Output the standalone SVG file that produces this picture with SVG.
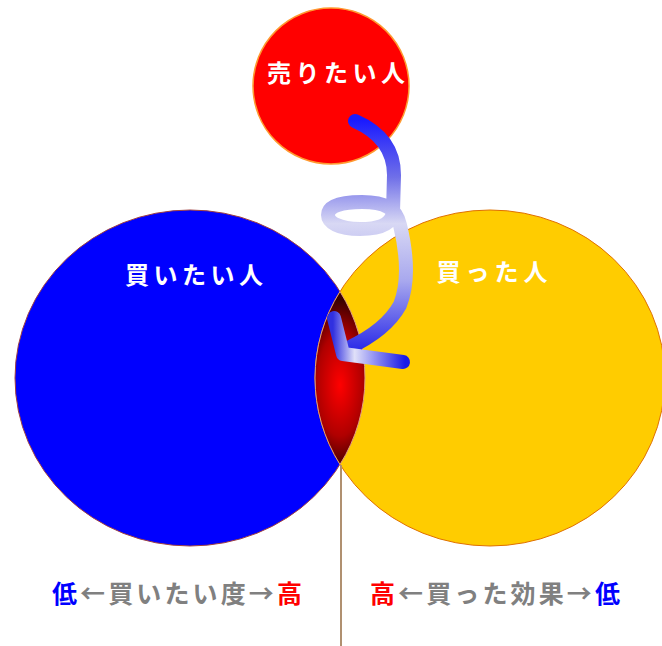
<svg xmlns="http://www.w3.org/2000/svg" width="662" height="646" viewBox="0 0 662 646">
<style>
.lbl{font-family:"Noto Sans CJK JP","Liberation Sans",sans-serif;font-weight:bold;}
.w{fill:#ffffff;font-size:24px;}
.b{font-size:25px;fill:#808080;}
</style>
<defs>
<radialGradient id="lens" cx="340" cy="385" r="85" gradientUnits="userSpaceOnUse" gradientTransform="translate(340 385) scale(0.45 1) translate(-340 -385)">
<stop offset="0" stop-color="#ff0000"/>
<stop offset="0.6" stop-color="#b00000"/>
<stop offset="1" stop-color="#3a0000"/>
</radialGradient>
<linearGradient id="tube" x1="0" y1="120" x2="0" y2="350" gradientUnits="userSpaceOnUse">
<stop offset="0" stop-color="#1a1aff"/>
<stop offset="0.25" stop-color="#7070e8"/>
<stop offset="0.45" stop-color="#d8d8f4"/>
<stop offset="0.7" stop-color="#a8a8ee"/>
<stop offset="1" stop-color="#2a2ae8"/>
</linearGradient>
<linearGradient id="head" x1="333" y1="0" x2="405" y2="0" gradientUnits="userSpaceOnUse">
<stop offset="0" stop-color="#3030e0"/>
<stop offset="0.3" stop-color="#e0e0f8"/>
<stop offset="1" stop-color="#1a1ae8"/>
</linearGradient>
</defs>
<rect width="662" height="646" fill="#ffffff"/>
<g id="seller">
<circle cx="331" cy="86" r="78" fill="#ff0000" stroke="#ff9a30" stroke-width="1.5"/>
<text class="lbl w" x="336" y="82" text-anchor="middle" textLength="138">売りたい人</text>
</g>
<g id="buyer">
<ellipse cx="190" cy="378" rx="175" ry="168" fill="#0000ff" stroke="#a04040" stroke-width="1"/>
<text class="lbl w" x="194" y="284" text-anchor="middle" textLength="138">買いたい人</text>
</g>
<g id="bought">
<ellipse cx="490" cy="378" rx="175" ry="168" fill="#ffcc00" stroke="#e07000" stroke-width="1"/>
<text class="lbl w" x="492" y="281" text-anchor="middle" textLength="111">買った人</text>
</g>
<g id="overlap">
<path d="M340 291.5 A175 168 0 0 1 340 464.5 A175 168 0 0 1 340 291.5 Z" fill="url(#lens)" stroke="#e0a080" stroke-width="1"/>
</g>
<g id="connectors">
<line x1="341" y1="465" x2="341" y2="646" stroke="#b09070" stroke-width="2"/>
<path d="M355 121 C380 132 394 150 394 175 L393 212 C392 224 380 229 360 229 C338 229 328 222 328 215 C328 206 342 202 362 202 C385 202 396 208 400 225 C406 250 410 280 400 305 C390 323 372 337 348 348" fill="none" stroke="url(#tube)" stroke-width="14" stroke-linecap="round" stroke-linejoin="round"/>
<path d="M334 318 L343 354 L403 362" fill="none" stroke="url(#head)" stroke-width="14" stroke-linecap="round" stroke-linejoin="round"/>
</g>
<g id="labels">
<text class="lbl b" x="52" y="603" textLength="250"><tspan fill="#0000ff">低</tspan>←買いたい度→<tspan fill="#ff0000">高</tspan></text>
<text class="lbl b" x="370" y="603" textLength="250"><tspan fill="#ff0000">高</tspan>←買った効果→<tspan fill="#0000ff">低</tspan></text>
</g>
</svg>
